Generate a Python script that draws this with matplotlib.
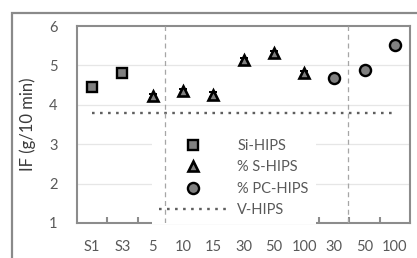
import numpy as np
import matplotlib.pyplot as plt
from matplotlib.patches import Rectangle

plt.rcParams['font.family'] = ['Lato', 'DejaVu Sans']

labels = ["S1", "S3", "5", "10", "15", "30", "50", "100", "30", "50", "100"]
si_hips = [4.44, 4.80]
s_hips = [4.22, 4.34, 4.26, 5.14, 5.31, 4.80]
s_err = [0.06, 0.06, 0.06, 0.06, 0.06, 0.06]
pc_hips = [4.69, 4.88, 5.52]
v_hips = 3.8

x = np.arange(len(labels))
grey = "#808080"
txt = "#595959"

fig = plt.figure(figsize=(4.17, 2.58), dpi=100)
ax = fig.add_axes([0.1847, 0.1357, 0.7985, 0.7635])

# outer chart border (cropped on right and bottom)
fig.patches.append(Rectangle((12 / 417, -0.2), 1.2, 1 - 13 / 258 + 0.2,
                             transform=fig.transFigure, fill=False,
                             edgecolor="#8a8a8a", lw=1.6, zorder=0))

ax.set_xlim(-0.5, 10.5)
ax.set_ylim(1, 6)
for yv in [2, 3, 4, 5]:
    ax.axhline(yv, color="#e6e6e6", lw=0.9, zorder=0)

for xv in [2.41, 8.45]:
    ax.axvline(xv, color="#a6a6a6", lw=0.9, ls=(0, (4, 3)), zorder=6)

ax.plot([x[0], x[-1]], [v_hips, v_hips], color="#5e5e5e", lw=1.7,
        ls=(0, (1.1, 2.3)), label="V-HIPS", zorder=2)

ax.plot(x[0:2], si_hips, ls="none", marker="s", ms=7.5, mfc=grey, mec="black",
        mew=1.7, label="Si-HIPS", zorder=4)
ax.errorbar(x[2:8], s_hips, yerr=s_err, fmt="none", ecolor="black",
            elinewidth=1.2, capsize=3, capthick=1.4, zorder=3)
ax.plot(x[2:8], s_hips, ls="none", marker="^", ms=6.5, mfc=grey, mec="black",
        mew=1.9, label="% S-HIPS", zorder=4)
ax.plot(x[8:11], pc_hips, ls="none", marker="o", ms=8, mfc=grey, mec="black",
        mew=1.7, label="% PC-HIPS", zorder=4)

for s in ax.spines.values():
    s.set_color("#8c8c8c")
    s.set_linewidth(1.5)

ax.set_xticks(x)
ax.set_xticklabels(labels)
ax.set_xticks(np.arange(0.5, 10.5, 1), minor=True)
ax.tick_params(axis="x", which="major", length=0, pad=12, labelsize=10.5, labelcolor=txt)
ax.tick_params(axis="x", which="minor", direction="in", length=4.5, width=1.5, color="#8c8c8c")
ax.set_yticks([1, 2, 3, 4, 5, 6])
ax.tick_params(axis="y", length=0, pad=14, labelsize=10.5, labelcolor=txt)

ax.set_ylabel("IF (g/10 min)", fontsize=12, color="#3a3a3a", labelpad=9)

h, l = ax.get_legend_handles_labels()
order = [1, 2, 3, 0]
leg = ax.legend([h[i] for i in order], [l[i] for i in order],
                loc="upper left", bbox_to_anchor=(0.225, 0.463),
                frameon=True, fancybox=False, framealpha=1, facecolor="white",
                edgecolor="none", fontsize=10.5, handlelength=4.6,
                handletextpad=0.75, labelspacing=0.5, borderpad=0.5,
                borderaxespad=0)
for t in leg.get_texts():
    t.set_color(txt)
leg.set_zorder(5)

fig.savefig("out.png", dpi=100)
